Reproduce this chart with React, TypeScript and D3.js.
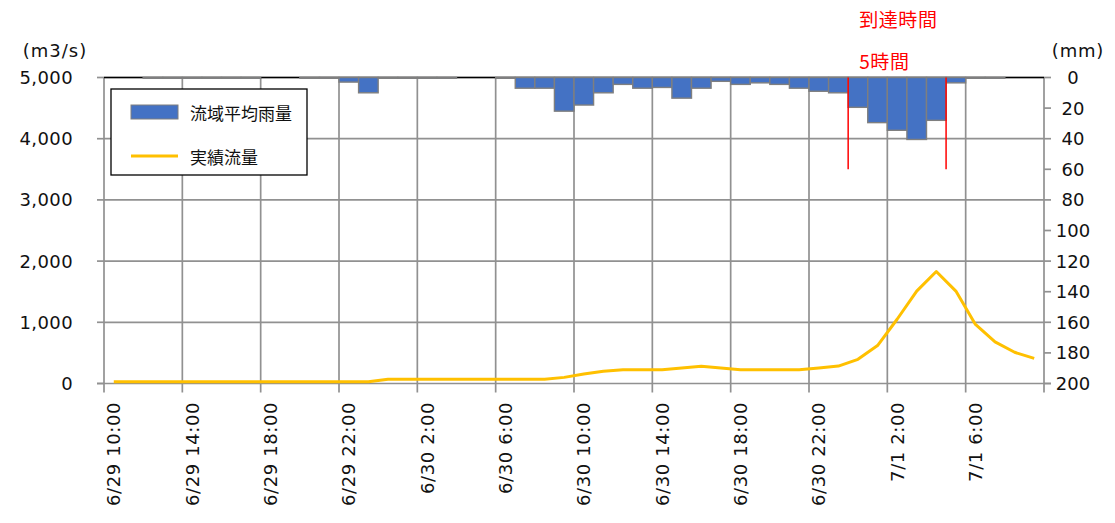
import * as d3 from "d3";

// hourly series, 6/29 10:00 .. 7/1 9:00
const startTime = new Date(2020, 5, 29, 10);
const hours = d3.timeHour.range(startTime, d3.timeHour.offset(startTime, 48));

// basin average rainfall (mm), right axis reversed
const rain = [
  0, 0, 0.5, 0.5, 0.5, 0.5, 0.5, 0.5, 0, 0, 0.5, 0.5, 3, 10,
  0.5, 0.5, 0.5, 0.5, 0, 0, 0.5, 7, 7, 22, 18, 10, 4.5, 7,
  6.5, 13.5, 7, 2.5, 4.5, 3.5, 4.5, 7, 9, 10, 19.5, 29.5, 34.5, 40.5,
  28, 3.5, 0.5, 0.5, 0, 0,
];

// observed discharge (m3/s)
const flow = [
  30, 30, 30, 30, 30, 30, 30, 30, 30, 30, 30, 30, 30, 30,
  70, 70, 70, 70, 70, 70, 70, 70, 70, 100, 155, 200, 225, 225,
  225, 255, 280, 255, 225, 225, 225, 225, 255, 285, 395, 620, 1050, 1510,
  1830, 1510, 965, 680, 510, 410,
];

const leftTicks = [0, 1000, 2000, 3000, 4000, 5000];
const rightTicks = [0, 20, 40, 60, 80, 100, 120, 140, 160, 180, 200];
const labelEvery = 4;

// arrival time annotation (hour index range, rain depth of marker)
const arrivalFrom = 38;
const arrivalTo = 43;
const arrivalDepth = 60;
const arrivalTitle = "到達時間";
const arrivalText = "5時間";

const legendItems = ["流域平均雨量", "実績流量"];

const width = 1115;
const height = 523;
const left = 104;
const right = 1044;
const top = 77.5;
const bottom = 383.5;

const num = "'DejaVu Sans', Verdana, sans-serif";
const jp = "'Noto Sans CJK JP', sans-serif";
const gridColor = "#919191";

export default function App() {
  const x = d3.scaleBand<number>().domain(d3.range(hours.length)).range([left, right]).padding(0);
  const bw = x.bandwidth();
  const yL = d3.scaleLinear().domain([0, 5000]).range([bottom, top]);
  const yR = d3.scaleLinear().domain([0, 200]).range([top, bottom]);
  const fmt = d3.timeFormat("%-m/%-d %-H:%M");

  const line = d3.line<number>()
    .x((d, i) => (x(i) as number) + bw / 2)
    .y(d => yL(d));

  const boundaries = d3.range(0, hours.length + 1, labelEvery).map(i =>
    i < hours.length ? (x(i) as number) : right
  );

  const annX = (x(arrivalFrom) as number) + 11;

  return (
    <svg width={width} height={height} style={{ position: "absolute", left: 0, top: 0, background: "#fff" }}>
      {/* gridlines */}
      {leftTicks.slice(1).map(t => (
        <line key={"h" + t} x1={left} x2={right} y1={yL(t)} y2={yL(t)} stroke={gridColor} strokeWidth={1.7} />
      ))}
      {boundaries.slice(1, -1).map((bx, i) => (
        <line key={"v" + i} x1={bx} x2={bx} y1={top} y2={bottom} stroke={gridColor} strokeWidth={1.7} />
      ))}

      {/* axes */}
      <line x1={left} x2={left} y1={top} y2={bottom} stroke={gridColor} strokeWidth={1.7} />
      <line x1={right} x2={right} y1={top} y2={bottom} stroke={gridColor} strokeWidth={1.7} />
      <line x1={left - 7} x2={right + 7} y1={bottom} y2={bottom} stroke={gridColor} strokeWidth={1.7} />
      <line x1={left} x2={right} y1={top} y2={top} stroke="#000" strokeWidth={1.5} />
      {leftTicks.map(t => (
        <g key={"lt" + t}>
          <line x1={left - 7} x2={left} y1={yL(t)} y2={yL(t)} stroke={gridColor} strokeWidth={1.7} />
          <text x={73} y={yL(t)} dy="0.36em" textAnchor="end" fontFamily={num} fontSize={18} letterSpacing={0.4} fill="#111">
            {d3.format(",")(t)}
          </text>
        </g>
      ))}
      {rightTicks.map(t => (
        <g key={"rt" + t}>
          <line x1={right} x2={right + 7} y1={yR(t)} y2={yR(t)} stroke={gridColor} strokeWidth={1.7} />
          <text x={1073} y={yR(t)} dy="0.36em" textAnchor="middle" fontFamily={num} fontSize={18} fill="#111">
            {t}
          </text>
        </g>
      ))}
      {boundaries.map((bx, i) => (
        <line key={"xt" + i} x1={bx} x2={bx} y1={bottom} y2={bottom + 9} stroke={gridColor} strokeWidth={1.7} />
      ))}
      {hours.map((h, i) =>
        i % labelEvery === 0 ? (
          <text
            key={"xl" + i}
            transform={`translate(${(x(i) as number) + bw / 2 + 6.5},402) rotate(-90)`}
            textAnchor="end"
            fontFamily={num}
            fontSize={18}
            letterSpacing={0.6}
            fill="#111"
          >
            {fmt(h)}
          </text>
        ) : null
      )}
      <text x={55} y={56.5} textAnchor="middle" fontFamily={num} fontSize={18} letterSpacing={1} fill="#111">(m3/s)</text>
      <text x={1078} y={56.5} textAnchor="middle" fontFamily={num} fontSize={18} letterSpacing={0.8} fill="#111">(mm)</text>

      {/* rainfall bars hanging from top */}
      {rain.map((r, i) =>
        r > 0 ? (
          <rect
            key={"r" + i}
            x={x(i)}
            y={yR(0)}
            width={bw}
            height={yR(r) - yR(0)}
            fill="#4472C4"
            stroke="#7f7f7f"
            strokeWidth={1.4}
          />
        ) : null
      )}

      {/* discharge line */}
      <path d={line(flow) || ""} fill="none" stroke="#FFC000" strokeWidth={3} strokeLinejoin="round" />

      {/* arrival time markers */}
      {[arrivalFrom, arrivalTo].map(i => (
        <line key={"a" + i} x1={x(i)} x2={x(i)} y1={yR(0)} y2={yR(arrivalDepth)} stroke="#FF0000" strokeWidth={1.5} />
      ))}
      <text x={annX} y={18.5} dominantBaseline="central" fontFamily={jp} fontSize={19} letterSpacing={0.6} fill="#FF0000">
        {arrivalTitle}
      </text>
      <text x={annX} y={60} dominantBaseline="central" fontFamily={jp} fontSize={19} letterSpacing={0.6} fill="#FF0000">
        {arrivalText}
      </text>

      {/* legend */}
      <g>
        <rect x={111} y={89} width={196} height={86} fill="#fff" stroke="#000" strokeWidth={1.3} />
        <rect x={131} y={105} width={47} height={14} fill="#4472C4" stroke="#7f7f7f" strokeWidth={1} />
        <text x={190} y={112} dominantBaseline="central" fontFamily={jp} fontSize={17} fill="#111">{legendItems[0]}</text>
        <line x1={131} x2={178} y1={156} y2={156} stroke="#FFC000" strokeWidth={3} />
        <text x={190} y={156} dominantBaseline="central" fontFamily={jp} fontSize={17} fill="#111">{legendItems[1]}</text>
      </g>
    </svg>
  );
}
